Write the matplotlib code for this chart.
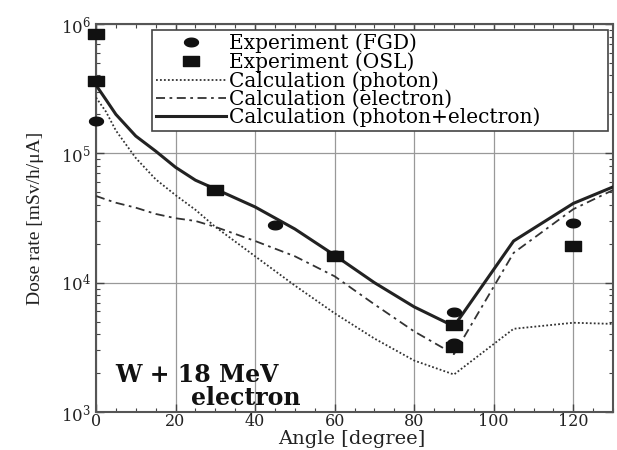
#!/usr/bin/env python3

import numpy as np
import matplotlib
matplotlib.use("Agg")
import matplotlib.pyplot as plt
from matplotlib.path import Path
from matplotlib.ticker import LogLocator, MultipleLocator, LogFormatterMathtext

# --- Data ---
# Calculated dose rate vs. angle [mSv/h/uA]
calc_angle = [0, 2.5, 5, 10, 15, 20, 25, 30, 40, 50, 60, 70, 80, 90, 105, 120, 130]
calc_photon = [2.7e5, 2.1e5, 1.5e5, 9.2e4, 6.3e4, 4.75e4, 3.66e4, 2.7e4, 1.6e4,
               9.5e3, 5.8e3, 3.7e3, 2.5e3, 1.95e3, 4.4e3, 4.9e3, 4.8e3]
calc_electron = [4.68e4, 4.4e4, 4.15e4, 3.8e4, 3.4e4, 3.15e4, 3.0e4, 2.7e4, 2.1e4,
                 1.6e4, 1.12e4, 6.8e3, 4.2e3, 2.8e3, 1.7e4, 3.7e4, 5.2e4]
calc_total = [3.37e5, 2.6e5, 2.0e5, 1.36e5, 1.04e5, 7.8e4, 6.2e4, 5.3e4, 3.85e4,
              2.6e4, 1.63e4, 1.0e4, 6.5e3, 4.6e3, 2.1e4, 4.1e4, 5.5e4]

# Measurements
fgd_angle = [0, 45, 60, 90, 90, 120]
fgd_dose = [1.77e5, 2.8e4, 1.63e4, 5.9e3, 3.4e3, 2.9e4]
osl_angle = [0, 0, 30, 60, 90, 90, 120]
osl_dose = [8.4e5, 3.6e5, 5.2e4, 1.6e4, 4.7e3, 3.2e3, 1.92e4]

# --- Style ---
plt.rcParams["font.family"] = "DejaVu Serif"
plt.rcParams["mathtext.fontset"] = "dejavuserif"

# flattened marker shapes
t = np.linspace(0, 2 * np.pi, 41)
ellipse = Path(np.column_stack([np.cos(t), 0.62 * np.sin(t)]), closed=True)
rect = Path([(-1, -0.6), (1, -0.6), (1, 0.6), (-1, 0.6), (-1, -0.6)], closed=True)

fig = plt.figure(figsize=(6.17, 4.5), dpi=100)
ax = fig.add_axes([0.1556, 0.0844, 0.838, 0.8623])

ax.plot(calc_angle, calc_photon, color="#333333", lw=1.3, ls=(0, (1, 1.2)),
        label="Calculation (photon)", zorder=3)
ax.plot(calc_angle, calc_electron, color="#333333", lw=1.3, ls=(0, (5, 2.5, 1.5, 2.5)),
        label="Calculation (electron)", zorder=3)
ax.plot(calc_angle, calc_total, color="#222222", lw=2.2, ls="-",
        label="Calculation (photon+electron)", zorder=3)
ax.plot(fgd_angle, fgd_dose, ls="none", marker=ellipse, ms=10, color="#111111",
        label="Experiment (FGD)", zorder=4, clip_on=False)
ax.plot(osl_angle, osl_dose, ls="none", marker=rect, ms=11, color="#111111",
        label="Experiment (OSL)", zorder=4, clip_on=False)

ax.set_xlim(0, 130)
ax.set_ylim(1e3, 1e6)
ax.set_yscale("log")
ax.xaxis.set_major_locator(MultipleLocator(20))
ax.xaxis.set_minor_locator(MultipleLocator(5))
ax.yaxis.set_major_locator(LogLocator(base=10))
ax.yaxis.set_minor_locator(LogLocator(base=10, subs=np.arange(2, 10)))
ax.yaxis.set_major_formatter(LogFormatterMathtext())
ax.tick_params(which="both", direction="in", top=True, right=True,
               colors="#444444", labelcolor="#222222")
ax.tick_params(which="major", length=6, width=1, labelsize=12)
ax.tick_params(axis="x", labelsize=11.5, pad=1)
ax.tick_params(which="minor", length=3, width=0.8)
for s in ax.spines.values():
    s.set_color("#555555")
    s.set_linewidth(1.5)
ax.grid(True, which="major", color="#999999", lw=0.9)

fig.text(0.57, 0.024, "Angle [degree]", fontsize=14, ha="center", va="center",
         color="#222222")
ax.set_ylabel("Dose rate [mSv/h/\u03bcA]", fontsize=14, family="Liberation Serif",
              labelpad=12, color="#222222")

ax.text(0.038, 0.095, "W + 18 MeV", transform=ax.transAxes, fontsize=17,
        fontweight="bold", color="#111111", va="center")
ax.text(0.183, 0.036, "electron", transform=ax.transAxes, fontsize=17,
        fontweight="bold", color="#111111", va="center")

handles, labels = ax.get_legend_handles_labels()
order = [3, 4, 0, 1, 2]
leg = ax.legend([handles[i] for i in order], [labels[i] for i in order],
                loc="upper left", bbox_to_anchor=(0.108, 0.73, 0.882, 0.255),
                mode="expand", fontsize=14.5,
                frameon=True, fancybox=False, framealpha=1, edgecolor="#444444",
                handlelength=3.5, handletextpad=0.15, labelspacing=-0.05,
                borderpad=0.2, borderaxespad=0)
leg.get_frame().set_linewidth(1.2)

fig.savefig("out.png", dpi=100)
